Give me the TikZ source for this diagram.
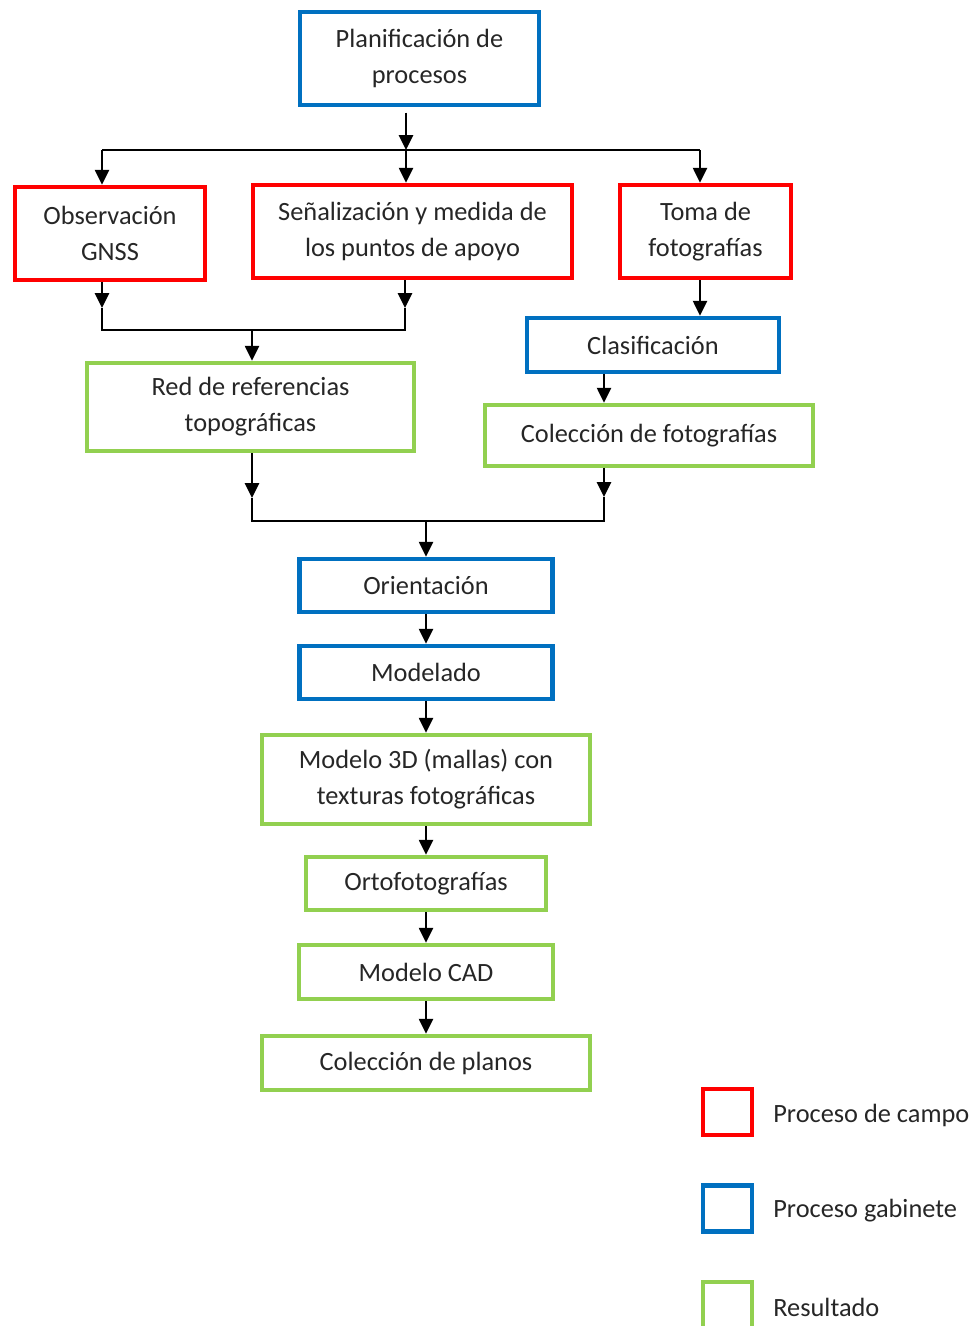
\documentclass[tikz,border=0pt]{standalone}
\usepackage{fontspec}
\setmainfont{Carlito}
\usetikzlibrary{arrows.meta}
\definecolor{campo}{HTML}{FF0000}
\definecolor{gabinete}{HTML}{0070C0}
\definecolor{resultado}{HTML}{92D050}
\tikzset{
  caja/.style={draw, line width=2.6pt, inner sep=0pt, align=center, text=black!85, font=\fontsize{15}{20.4}\selectfont},
  campobox/.style={caja, draw=campo},
  gabbox/.style={caja, draw=gabinete},
  resbox/.style={caja, draw=resultado},
  leyenda/.style={caja, minimum width=0.98cm, minimum height=0.92cm},
  arr/.style={line width=1.3pt, -{Triangle[width=8pt,length=8.5pt]}},
  linea/.style={line width=1.3pt}
}
\begin{document}
\begin{tikzpicture}[x=0.02cm,y=-0.02cm]
\useasboundingbox (0,0) rectangle (972,1326);
\node[gabbox, minimum width=4.78cm, minimum height=1.86cm] (plan) at (419.5,58.5) {Planificación de\\procesos};
\node[campobox, minimum width=3.80cm, minimum height=1.86cm] (obs) at (110,233.5) {Observación\\GNSS};
\node[campobox, minimum width=6.38cm, minimum height=1.86cm] (senal) at (412.5,231.5) {Señalización y medida de\\los puntos de apoyo};
\node[campobox, minimum width=3.42cm, minimum height=1.86cm] (toma) at (705.5,231.5) {Toma de\\fotografías};
\node[gabbox, minimum width=5.04cm, minimum height=1.08cm] (clasif) at (653,345) {Clasificación};
\node[resbox, minimum width=6.54cm, minimum height=1.76cm] (red) at (250.5,407) {Red de referencias\\topográficas};
\node[resbox, minimum width=6.56cm, minimum height=1.22cm] (colfot) at (649,435.5) {Colección de fotografías};
\node[gabbox, minimum width=5.06cm, minimum height=1.06cm] (orient) at (426,585.5) {Orientación};
\node[gabbox, minimum width=5.06cm, minimum height=1.06cm] (modelado) at (426,672.5) {Modelado};
\node[resbox, minimum width=6.56cm, minimum height=1.78cm] (malla) at (426,779.5) {Modelo 3D (mallas) con\\texturas fotográficas};
\node[resbox, minimum width=4.80cm, minimum height=1.06cm] (orto) at (426,883.5) {Ortofotografías};
\node[resbox, minimum width=5.08cm, minimum height=1.08cm] (cad) at (426,972) {Modelo CAD};
\node[resbox, minimum width=6.56cm, minimum height=1.08cm] (planos) at (426,1063) {Colección de planos};

\coordinate (jL) at (102,150);
\coordinate (jA) at (406,150);
\coordinate (jR) at (700,150);
\coordinate (aL) at (102,308);
\coordinate (aR) at (405,308);
\coordinate (mC) at (252,330);
\coordinate (bL) at (252,498);
\coordinate (bR) at (604,497);
\coordinate (bC) at (426,521);

\draw[arr, shorten <=3pt] (plan.south -| jA) -- (jA);
\draw[linea] (jL) -- (jR);
\draw[arr] (jL) -- (obs.north -| jL);
\draw[arr] (jA) -- (senal.north -| jA);
\draw[arr] (jR) -- (toma.north -| jR);
\draw[arr] (obs.south -| aL) -- (aL);
\draw[arr] (senal.south -| aR) -- (aR);
\draw[linea] (aL) |- (mC) -| (aR);
\draw[arr] (mC) -- (red.north -| mC);
\draw[arr] (toma.south -| jR) -- (clasif.north -| jR);
\draw[arr] (clasif.south -| bR) -- (colfot.north -| bR);
\draw[arr] (red.south -| bL) -- (bL);
\draw[arr] (colfot.south -| bR) -- (bR);
\draw[linea] (bL) |- (bC) -| (bR);
\draw[arr] (bC) -- (orient.north);
\draw[arr] (orient) -- (modelado);
\draw[arr] (modelado) -- (malla);
\draw[arr] (malla) -- (orto);
\draw[arr] (orto) -- (cad);
\draw[arr] (cad) -- (planos);

\node[leyenda, draw=campo] (lcampo) at (727.5,1112) {};
\node[leyenda, draw=gabinete] (lgab) at (727.5,1208.5) {};
\node[leyenda, draw=resultado] (lres) at (727.5,1305) {};
\node[anchor=west, inner sep=0pt, text=black!85, font=\fontsize{15}{20.4}\selectfont] (tcampo) at (773,1115) {Proceso de campo};
\node[anchor=west, inner sep=0pt, text=black!85, font=\fontsize{15}{20.4}\selectfont] (tgab) at (773,1211) {Proceso gabinete};
\node[anchor=west, inner sep=0pt, text=black!85, font=\fontsize{15}{20.4}\selectfont] (tres) at (773,1307) {Resultado};
\end{tikzpicture}
\end{document}
